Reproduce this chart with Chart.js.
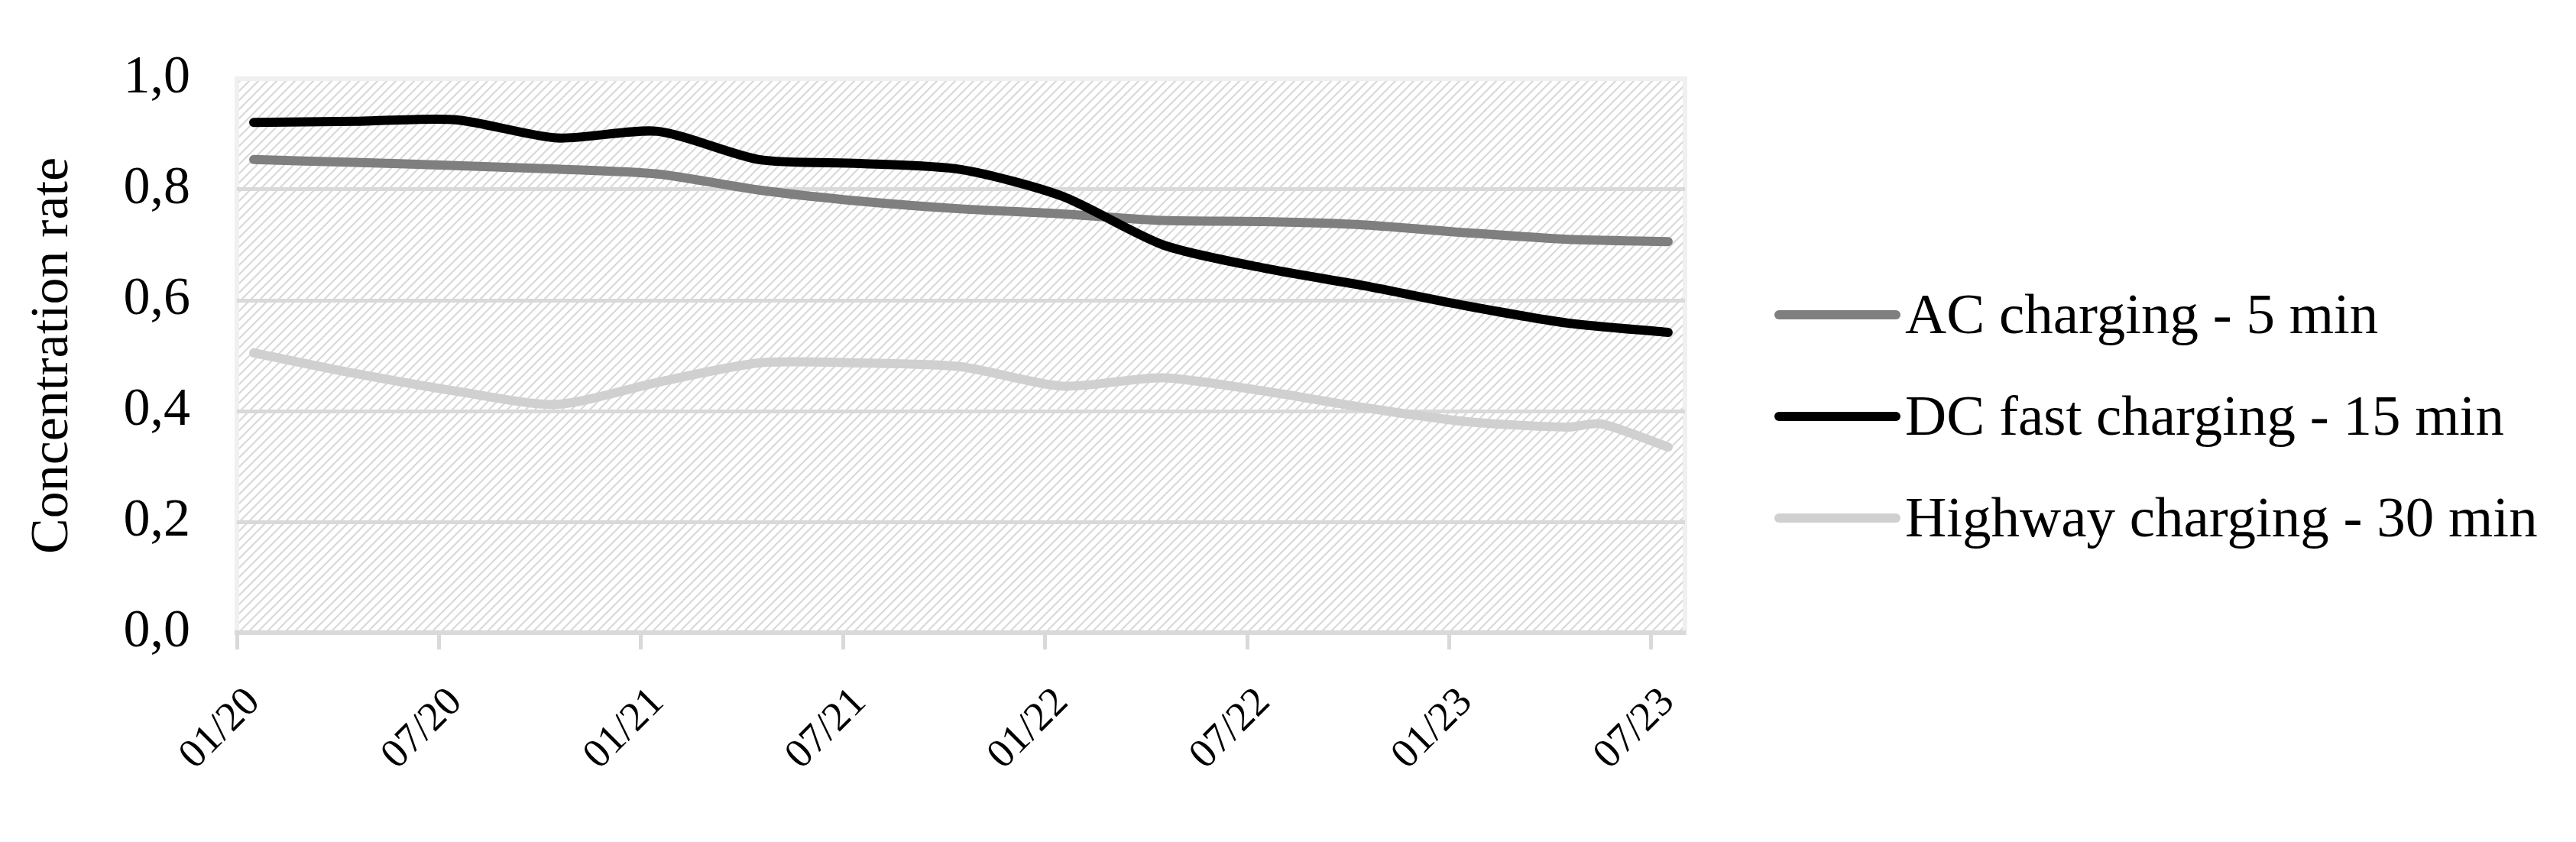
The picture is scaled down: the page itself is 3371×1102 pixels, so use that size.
<!doctype html>
<html lang="en">
  <head>
    <meta charset="utf-8">
    <title>Concentration rate</title>
    <style>
      * {
        margin: 0;
        padding: 0;
      }
      body {
        background: #fff;
        width: 3371px;
        height: 1102px;
        overflow: hidden;
      }
      canvas {
        display: block;
      }
    </style>
  </head>
  <body>
    <canvas id="myChart" width="3371" height="1102"></canvas>
    <script src="https://cdn.jsdelivr.net/npm/chart.js/dist/chart.umd.min.js"></script>
    <script>
    // setup
    // one category per month, 01/20 .. 07/23
    const months = [];
    for (let y = 20; y <= 23; y++) {
      for (let m = 1; m <= 12; m++) {
        if (y === 23 && m > 7) break;
        months.push(String(m).padStart(2, '0') + '/' + y);
      }
    }

    const sampleMonths = ['01/20', '04/20', '07/20', '10/20', '01/21', '04/21', '07/21', '10/21',
                          '01/22', '04/22', '07/22', '10/22', '01/23', '04/23', '07/23'];
    const highwayMonths = ['01/20', '04/20', '07/20', '10/20', '01/21', '04/21', '07/21', '10/21',
                           '01/22', '04/22', '07/22', '10/22', '01/23', '04/23', '05/23', '07/23'];

    const acCharging = [0.854, 0.849, 0.843, 0.837, 0.828, 0.799, 0.779, 0.765,
                        0.756, 0.744, 0.742, 0.736, 0.722, 0.710, 0.706];
    const dcFastCharging = [0.921, 0.923, 0.926, 0.893, 0.905, 0.854, 0.847, 0.836,
                            0.788, 0.700, 0.658, 0.626, 0.590, 0.559, 0.542];
    const highwayCharging = [0.505, 0.468, 0.436, 0.412, 0.452, 0.487, 0.487, 0.480,
                             0.445, 0.460, 0.436, 0.406, 0.381, 0.371, 0.377, 0.335];

    const seriesNames = ['AC charging - 5 min', 'DC fast charging - 15 min', 'Highway charging - 30 min'];
    const seriesColors = ['#7f7f7f', '#000000', '#d0d0d0'];

    const FONT = "'Liberation Serif', 'Times New Roman', serif";

    const toPoints = (xs, ys) => xs.map((x, i) => ({ x: x, y: ys[i] }));

    const lineStyle = {
      borderWidth: 12,
      pointRadius: 0,
      tension: 0.25,
      borderCapStyle: 'round',
      borderJoinStyle: 'round',
      fill: false
    };

    const data = {
      labels: months,
      datasets: [
        { label: seriesNames[0], data: toPoints(sampleMonths, acCharging), borderColor: seriesColors[0], order: 2, ...lineStyle },
        { label: seriesNames[1], data: toPoints(sampleMonths, dcFastCharging), borderColor: seriesColors[1], order: 1, ...lineStyle },
        { label: seriesNames[2], data: toPoints(highwayMonths, highwayCharging), borderColor: seriesColors[2], order: 3, ...lineStyle }
      ]
    };

    // hatched plot area + light frame
    const hatch = document.createElement('canvas');
    hatch.width = 12;
    hatch.height = 12;
    const hctx = hatch.getContext('2d');
    hctx.strokeStyle = '#d9d9d9';
    hctx.lineWidth = 2.2;
    hctx.beginPath();
    hctx.moveTo(-1, 13); hctx.lineTo(13, -1);
    hctx.moveTo(-1, 1); hctx.lineTo(1, -1);
    hctx.moveTo(11, 13); hctx.lineTo(13, 11);
    hctx.stroke();

    const plotBackground = {
      id: 'plotBackground',
      beforeDraw(chart) {
        const { ctx, chartArea: { top, bottom, left, right } } = chart;
        ctx.save();
        ctx.fillStyle = ctx.createPattern(hatch, 'repeat');
        ctx.fillRect(left, top, right - left, bottom - top);
        ctx.strokeStyle = '#f0f0f0';
        ctx.lineWidth = 6;
        ctx.strokeRect(left, top, right - left, bottom - top);
        ctx.restore();
      }
    };

    // legend on the right, line sample + text
    const sideLegend = {
      id: 'sideLegend',
      afterDraw(chart) {
        const { ctx, chartArea: { right }, height } = chart;
        const x0 = right + 117;
        const lineLen = 165;
        const rowGap = 133;
        const midY = height / 2 - 6;
        ctx.save();
        ctx.font = '75px ' + FONT;
        ctx.textBaseline = 'middle';
        ctx.textAlign = 'left';
        chart.data.datasets.forEach((ds, i) => {
          const y = midY + (i - 1) * rowGap;
          ctx.beginPath();
          ctx.strokeStyle = ds.borderColor;
          ctx.lineWidth = 12;
          ctx.lineCap = 'round';
          ctx.moveTo(x0 + 6, y);
          ctx.lineTo(x0 + lineLen - 6, y);
          ctx.stroke();
          ctx.fillStyle = '#000';
          ctx.fillText(ds.label, x0 + lineLen + 6, y + 4);
        });
        ctx.restore();
      }
    };

    // config
    const config = {
      type: 'line',
      data,
      options: {
        responsive: false,
        animation: false,
        layout: {
          padding: { top: 97, right: 1166, bottom: 0, left: 0 }
        },
        scales: {
          x: {
            type: 'category',
            offset: true,
            grid: {
              offset: true,
              drawOnChartArea: false,
              drawTicks: true,
              tickLength: 22,
              tickWidth: 5,
              tickColor: (ctx) => ctx.index % 6 === 0 ? '#d9d9d9' : 'rgba(0,0,0,0)'
            },
            border: { color: '#d9d9d9', width: 6 },
            ticks: {
              autoSkip: false,
              minRotation: 45,
              maxRotation: 45,
              padding: 38,
              color: '#000',
              font: { family: FONT, size: 54 },
              callback: (val, i) => i % 6 === 0 ? months[i] : ''
            },
            afterFit: (scale) => { scale.height = 274; }
          },
          y: {
            min: 0,
            max: 1,
            ticks: {
              stepSize: 0.2,
              padding: 61,
              color: '#000',
              font: { family: FONT, size: 70 },
              callback: (v) => v.toFixed(1).replace('.', ',')
            },
            grid: {
              color: (ctx) => (ctx.tick && ctx.tick.value > 0.99) ? 'rgba(0,0,0,0)' : '#d9d9d9',
              lineWidth: 5,
              drawTicks: false
            },
            border: { display: false },
            title: {
              display: true,
              text: 'Concentration rate',
              color: '#000',
              font: { family: FONT, size: 70 },
              padding: { top: 28, bottom: 0 }
            },
            afterFit: (scale) => { scale.width = 310; }
          }
        },
        plugins: {
          legend: { display: false },
          tooltip: { enabled: false }
        }
      },
      plugins: [plotBackground, sideLegend]
    };

    // render init block
    const myChart = new Chart(
      document.getElementById('myChart'),
      config
    );
    </script>
  </body>
</html>
